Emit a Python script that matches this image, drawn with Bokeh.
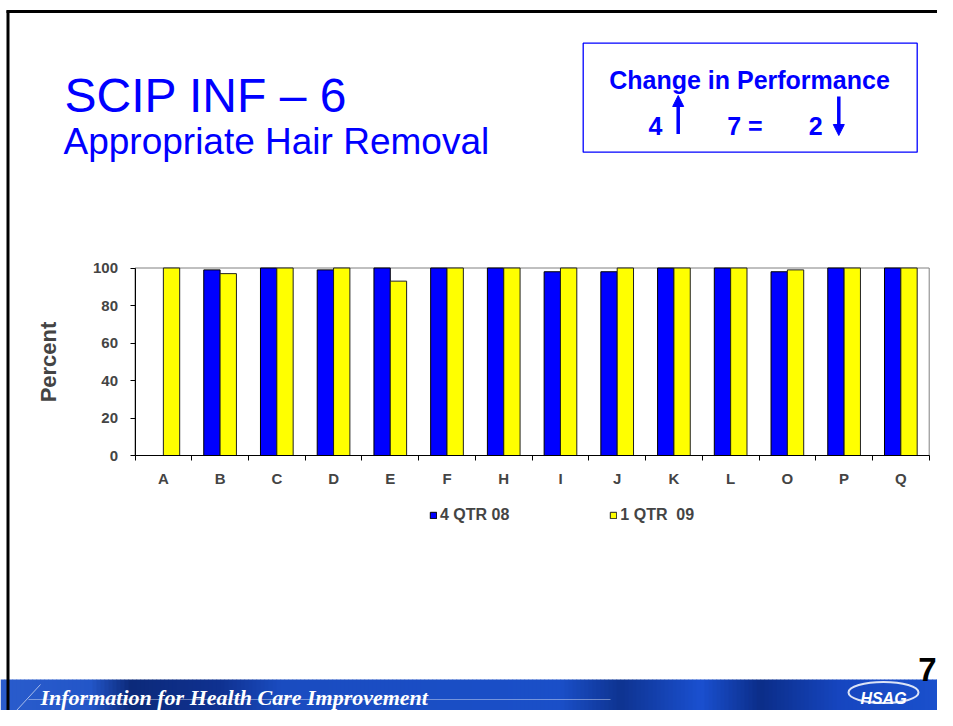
import numpy as np
from bokeh.plotting import figure
from bokeh.models import (Range1d, LinearAxis, FixedTicker, ColumnDataSource,
                          Legend, LegendItem, Arrow, NormalHead)
from bokeh.core.properties import value
from bokeh.transform import dodge
from bokeh.embed import file_html
from bokeh.resources import INLINE

# ---------------- data ----------------
categories = ["A", "B", "C", "D", "E", "F", "H", "I", "J", "K", "L", "O", "P", "Q"]
q4_08 = [float("nan"), 99, 100, 99, 100, 100, 100, 98, 98, 100, 100, 98, 100, 100]
q1_09 = [100, 97, 100, 100, 93, 100, 100, 100, 100, 100, 100, 99, 100, 100]
series_names = ["4 QTR 08", "1 QTR  09"]
y_ticks = [0, 20, 40, 60, 80, 100]
y_label = "Percent"

title_text = "SCIP INF \u2013 6"
subtitle_text = "Appropriate Hair Removal"
box_title = "Change in Performance"
n_up, n_same, n_down = 4, 7, 2
footer_text = "Information for Health Care Improvement"
page_number = "7"
logo_text = "HSAG"

# ---------------- layout ----------------
W, H = 937, 710
FONT = "Liberation Sans"
BLUE = "#0000FF"
YELLOW = "#FFFF00"

cx0, cx1 = 134.5, 928.7        # chart frame, canvas px
cy_top, cy_bot = 267.5, 455.0
n = len(categories)
ymax = y_ticks[-1]
span_x = n * W / (cx1 - cx0)
xs0 = -cx0 / W * span_x
span_y = ymax * H / (cy_bot - cy_top)
ys0 = -(H - cy_bot) / H * span_y

p = figure(width=W, height=H, x_range=Range1d(0, W), y_range=Range1d(H, 0),
           output_backend="svg", toolbar_location=None, x_axis_type=None,
           y_axis_type=None, min_border=0, title=None, outline_line_color=None,
           background_fill_color="white", border_fill_color="white")
p.extra_x_ranges = {"cx": Range1d(xs0, xs0 + span_x)}
p.extra_y_ranges = {"cy": Range1d(ys0, ys0 + span_y)}


def txt(x, y, s, size, color="black", style="normal", align="left", font=FONT):
    p.text(x=[x], y=[y], text=[s], text_font=value(font), text_font_size=size,
           text_font_style=style, text_color=color, text_align=align,
           text_baseline="alphabetic")


# ---------------- header ----------------
txt(64, 95, title_text, "48px", BLUE)
txt(63, 140.5, subtitle_text, "37px", BLUE)

p.quad(left=[582.7], right=[916.7], top=[42.7], bottom=[151.7],
       fill_color="white", line_color=BLUE, line_width=1.3)
txt(749, 79.3, box_title, "25px", BLUE, "bold", "center")
txt(648, 125, str(n_up), "25px", BLUE, "bold")
txt(726.7, 125, f"{n_same} =", "25px", BLUE, "bold")
txt(808.3, 125, str(n_down), "25px", BLUE, "bold")
p.add_layout(Arrow(x_start=677.7, y_start=133.5, x_end=677.7, y_end=95,
                   line_color=BLUE, line_width=3.5,
                   end=NormalHead(size=11, fill_color=BLUE, line_color=BLUE)))
p.add_layout(Arrow(x_start=838.3, y_start=96, x_end=838.3, y_end=135,
                   line_color=BLUE, line_width=3.5,
                   end=NormalHead(size=11, fill_color=BLUE, line_color=BLUE)))

# ---------------- chart ----------------
p.quad(left=[0], right=[n], bottom=[0], top=[ymax], fill_color=None,
       line_color="#808080", line_width=1, x_range_name="cx", y_range_name="cy")

src = ColumnDataSource(dict(xc=[i + 0.5 for i in range(n)], a=q4_08, b=q1_09))
bw = 0.288
r1 = p.vbar(x=dodge("xc", -bw / 2), top="a", bottom=0, width=bw, source=src,
            fill_color=BLUE, line_color="black", line_width=1,
            x_range_name="cx", y_range_name="cy")
r2 = p.vbar(x=dodge("xc", bw / 2), top="b", bottom=0, width=bw, source=src,
            fill_color=YELLOW, line_color="#202020", line_width=1,
            x_range_name="cx", y_range_name="cy")

yaxis = LinearAxis(x_range_name="cx", y_range_name="cy", fixed_location=0,
                   bounds=(0, ymax), ticker=FixedTicker(ticks=y_ticks),
                   axis_label=y_label)
yaxis.axis_line_color = "black"
yaxis.major_tick_out = 5
yaxis.major_tick_in = 0
yaxis.minor_tick_line_color = None
yaxis.major_label_standoff = 12
yaxis.major_label_text_font = FONT
yaxis.major_label_text_font_style = "bold"
yaxis.major_label_text_font_size = "15px"
yaxis.axis_label_text_font = FONT
yaxis.axis_label_text_font_style = "bold"
yaxis.axis_label_text_font_size = "22px"
yaxis.axis_label_standoff = 29
p.add_layout(yaxis, "left")

xaxis = LinearAxis(x_range_name="cx", y_range_name="cy", fixed_location=0,
                   bounds=(0, n),
                   ticker=FixedTicker(ticks=[i + 0.5 for i in range(n)],
                                      minor_ticks=list(range(n + 1))),
                   major_label_overrides={i + 0.5: c for i, c in enumerate(categories)})
xaxis.axis_line_color = "black"
xaxis.major_tick_line_color = None
xaxis.major_tick_out = 0
xaxis.major_tick_in = 0
xaxis.minor_tick_out = 5
xaxis.minor_tick_in = 0
xaxis.minor_tick_line_color = "black"
xaxis.major_label_standoff = 9
xaxis.major_label_text_font = FONT
xaxis.major_label_text_font_style = "bold"
xaxis.major_label_text_font_size = "15px"
p.add_layout(xaxis, "below")

legend = Legend(items=[LegendItem(label=series_names[0], renderers=[r1]),
                       LegendItem(label=series_names[1], renderers=[r2])],
                orientation="horizontal", location=(429, 186),
                glyph_width=8, glyph_height=8, label_standoff=3, spacing=100,
                padding=0, margin=0, border_line_color=None,
                background_fill_alpha=0, label_height=10,
                label_text_font=FONT, label_text_font_style="bold",
                label_text_font_size="16px")
p.add_layout(legend)

# ---------------- footer ----------------
stops_x = [0, 90, 130, 220, 280, 560, 620, 700, 760, 840, 937]
stops_c = ["#2a5ccc", "#2356c8", "#0c2a7a", "#0f3190", "#1a4cc0", "#1a4fc8",
           "#0e3390", "#1a50d0", "#0b2d88", "#1646c0", "#1a50cc"]


def hex2rgb(h):
    return np.array([int(h[i:i + 2], 16) for i in (1, 3, 5)], dtype=float)


rgb = np.array([hex2rgb(c) for c in stops_c])
step = 4
lefts = np.arange(0, W, step)
mids = lefts + step / 2
cols = []
for m in mids:
    c = [np.interp(m, stops_x, rgb[:, k]) for k in range(3)]
    cols.append("#%02x%02x%02x" % tuple(int(round(v)) for v in c))
p.quad(left=lefts, right=lefts + step + 0.6, top=679, bottom=H,
       fill_color=cols, line_color=None)
p.segment(x0=[28], y0=[699], x1=[610], y1=[699], line_color="white",
          line_alpha=0.4, line_width=1)
p.segment(x0=[16], y0=[710], x1=[40], y1=[684], line_color="white",
          line_alpha=0.6, line_width=1)
txt(40, 697, footer_text, "22px", "white", "bold italic", font="Liberation Serif")
p.ellipse(x=[883], y=[692], width=[70], height=[21], fill_color=None,
          line_color="white", line_width=2, line_alpha=0.85)
txt(883, 698, logo_text, "16px", "white", "bold italic", "center")

# page number & slide border
txt(936, 669, page_number, "33px", "black", "bold", "right")
p.segment(x0=[7.5, 6], y0=[10, 11], x1=[7.5, W], y1=[H, 11],
          line_color="black", line_width=3)

open("out.html", "w").write(file_html(p, INLINE))
